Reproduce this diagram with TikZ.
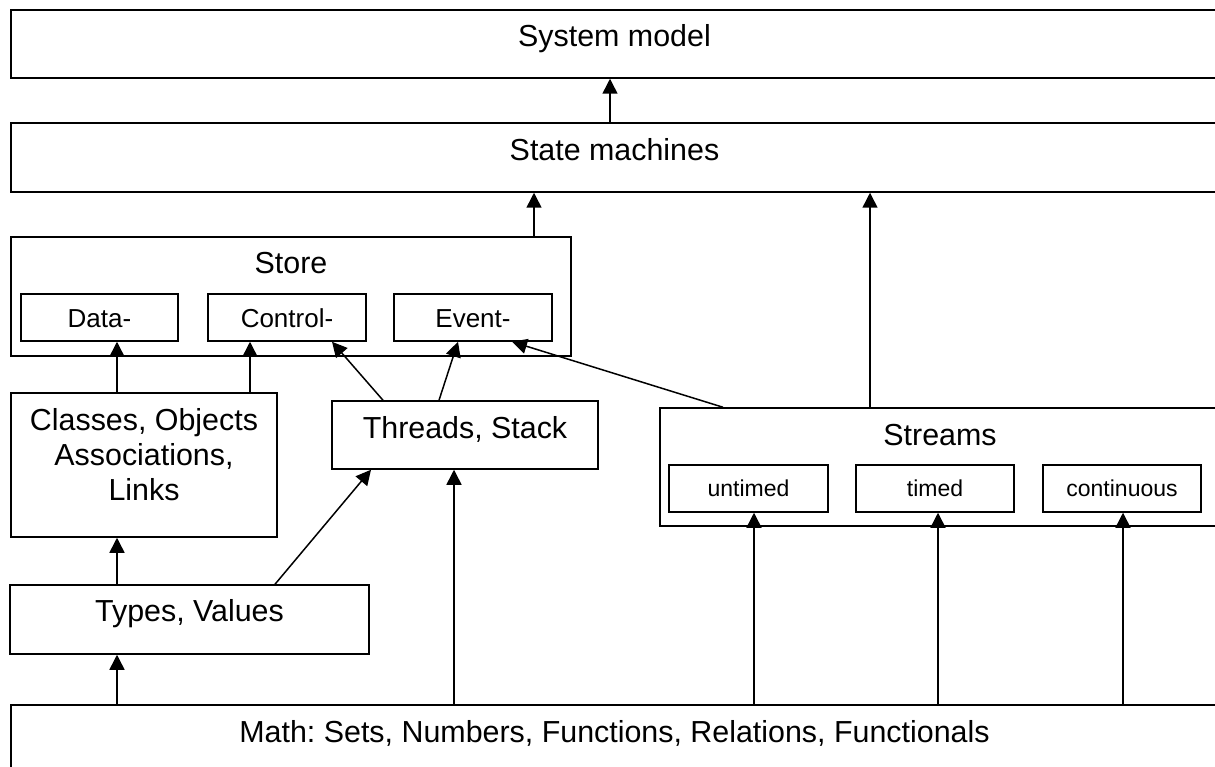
\documentclass[tikz,border=0pt]{standalone}
\usepackage{fontspec}
\setmainfont{Liberation Sans}
\usetikzlibrary{arrows.meta}
\frenchspacing
\tikzset{
  box/.style={draw, line width=1.5pt, rectangle, inner sep=0pt, fill=white},
  lbl/.style={font=\fontsize{30.4}{35}\selectfont, anchor=base, inner sep=0pt},
  slbl/.style={font=\fontsize{26}{30}\selectfont, anchor=base, inner sep=0pt},
  tlbl/.style={font=\fontsize{23}{27}\selectfont, anchor=base, inner sep=0pt},
  arr/.style={-{Triangle[length=15pt,width=15pt]}, line width=1.5pt}
}
\begin{document}
\begin{tikzpicture}[x=1pt,y=-1pt]
\fill[white] (0,0) rectangle (1215,767);
\useasboundingbox (0,0) rectangle (1215,767);
% boxes
\node[box, minimum width=1207pt, minimum height=68pt] (sys) at (614.5,44) {};
\node[box, minimum width=1207pt, minimum height=69pt] (sm) at (614.5,157.5) {};
\node[box, minimum width=560pt, minimum height=119pt] (store) at (291,296.5) {};
\node[box, minimum width=157pt, minimum height=47pt] (data) at (99.5,317.5) {};
\node[box, minimum width=158pt, minimum height=47pt] (ctrl) at (287,317.5) {};
\node[box, minimum width=158pt, minimum height=47pt] (event) at (473,317.5) {};
\node[box, minimum width=266pt, minimum height=144pt] (classes) at (144,465) {};
\node[box, minimum width=266pt, minimum height=68pt] (threads) at (465,435) {};
\node[box, minimum width=560pt, minimum height=118pt] (streams) at (940,467) {};
\node[box, minimum width=159pt, minimum height=47pt] (untimed) at (748.5,488.5) {};
\node[box, minimum width=158pt, minimum height=47pt] (timed) at (935,488.5) {};
\node[box, minimum width=158pt, minimum height=47pt] (cont) at (1122,488.5) {};
\node[box, minimum width=359pt, minimum height=69pt] (types) at (189.5,619.5) {};
\node[box, minimum width=1207pt, minimum height=75pt] (math) at (614.5,742.5) {};
% labels
\node[lbl] (tsys) at (614.5,47) {System model};
\node[lbl] (tsm) at (614.5,161) {State machines};
\node[lbl] (tstore) at (291,274) {Store};
\node[slbl] (tdata) at (99.5,327) {Data-};
\node[slbl] (tctrl) at (287,327) {Control-};
\node[slbl] (tevent) at (473,327) {Event-};
\node[lbl, align=center, anchor=north] (tclasses) at (144,408) {Classes, Objects\\Associations,\\Links};
\node[lbl] (tthreads) at (465,438) {Threads, Stack};
\node[lbl] (tstreams) at (940,445) {Streams};
\node[tlbl] (tuntimed) at (748.5,496) {untimed};
\node[tlbl] (ttimed) at (935,496) {timed};
\node[tlbl] (tcont) at (1122,496) {continuous};
\node[lbl] (ttypes) at (189.5,621) {Types, Values};
\node[lbl] (tmath) at (614.5,742) {Math: Sets, Numbers, Functions, Relations, Functionals};
% connectors
\draw[arr] ([xshift=-4.5pt]sm.north) -- ([xshift=-4.5pt]sys.south);
\draw[arr] ([xshift=243pt]store.north) -- ([xshift=-80.5pt]sm.south);
\draw[arr] ([xshift=-70pt]streams.north) -- ([xshift=255.5pt]sm.south);
\draw[arr] ([xshift=-27pt]classes.north) -- ([xshift=17.5pt]data.south);
\draw[arr] ([xshift=106pt]classes.north) -- ([xshift=-37pt]ctrl.south);
\draw[arr] ([xshift=-82pt]threads.north) -- ([xshift=45pt]ctrl.south);
\draw[arr] ([xshift=-26pt]threads.north) -- ([xshift=-15pt]event.south);
\draw[arr] ([xshift=-217pt]streams.north) -- ([xshift=39pt]event.south);
\draw[arr] ([xshift=-72.5pt]types.north) -- ([xshift=-27pt]classes.south);
\draw[arr] ([xshift=85.5pt]types.north) -- ([xshift=-94pt]threads.south);
\draw[arr] ([xshift=-497.5pt]math.north) -- ([xshift=-72.5pt]types.south);
\draw[arr] ([xshift=-160.5pt]math.north) -- ([xshift=-11pt]threads.south);
\draw[arr] ([xshift=139.5pt]math.north) -- ([xshift=5.5pt]untimed.south);
\draw[arr] ([xshift=323.5pt]math.north) -- ([xshift=3pt]timed.south);
\draw[arr] ([xshift=508.5pt]math.north) -- ([xshift=1pt]cont.south);
\end{tikzpicture}
\end{document}
